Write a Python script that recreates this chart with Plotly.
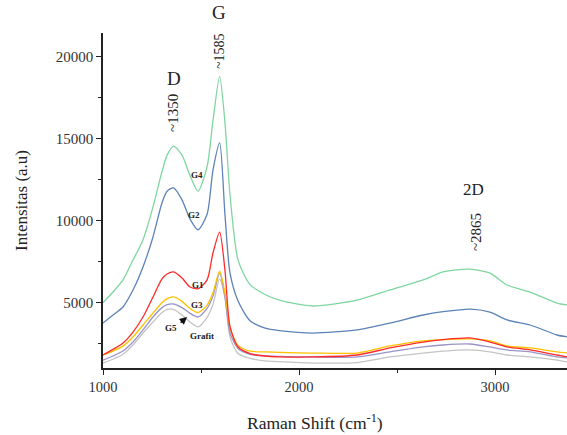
import plotly.graph_objects as go

# Raman shift positions (cm^-1)
shift = [1000, 1051, 1102, 1153, 1204, 1255, 1301, 1327, 1360, 1403, 1444, 1485, 1531, 1561, 1595, 1622,
         1648, 1689, 1750, 1827, 1900, 2071, 2296, 2464, 2633, 2735, 2872, 2974, 3061, 3179, 3316, 3370]

g4 = [5000, 5650, 6390, 7600, 8830, 10840, 13000, 14000, 14550, 14000, 12750, 11800, 13300, 16100, 18800, 16000,
      11570, 7600, 6100, 5500, 5150, 4800, 5160, 5780, 6390, 6880, 7050, 6800, 6080, 5650, 4980, 4860]
g2 = [3760, 4250, 4740, 5770, 7180, 9010, 11100, 11800, 12000, 11270, 10100, 9450, 10400, 13090, 14750, 10400,
      6800, 5100, 3900, 3450, 3300, 3150, 3340, 3760, 4250, 4450, 4610, 4430, 3950, 3640, 3030, 2910]
g1 = [1810, 2150, 2540, 3210, 4130, 5350, 6450, 6750, 6880, 6510, 5960, 5850, 6390, 8030, 9310, 7000,
      3520, 2300, 1900, 1750, 1700, 1690, 1810, 2240, 2600, 2750, 2850, 2600, 2300, 2120, 1810, 1690]
g3 = [1810, 2050, 2350, 2910, 3640, 4370, 5000, 5250, 5350, 5080, 4650, 4400, 4850, 5600, 6930, 5600,
      3520, 2400, 2050, 2000, 1970, 1930, 1930, 2360, 2670, 2750, 2790, 2670, 2360, 2240, 2000, 1930]
g5 = [1500, 1750, 2050, 2600, 3340, 4130, 4700, 4880, 4920, 4700, 4350, 4130, 4650, 5400, 6800, 5400,
      3150, 2200, 1850, 1750, 1720, 1690, 1690, 2000, 2300, 2420, 2480, 2300, 2120, 2000, 1690, 1630]
grafit = [1320, 1550, 1850, 2420, 3150, 3820, 4400, 4600, 4600, 4250, 3820, 3520, 4100, 4900, 6450, 5300,
          2900, 1900, 1600, 1450, 1400, 1320, 1350, 1690, 1930, 2050, 2120, 2000, 1810, 1690, 1500, 1380]

series = [
    ("Grafit", grafit, "#c4c4c4"),
    ("G5", g5, "#9a94c8"),
    ("G3", g3, "#ffc000"),
    ("G1", g1, "#ff2a2a"),
    ("G2", g2, "#5b83b8"),
    ("G4", g4, "#7fd6a0"),
]

serif = "Liberation Serif, Times New Roman, serif"

fig = go.Figure()
for name, vals, col in series:
    fig.add_trace(go.Scatter(x=shift, y=vals, mode="lines", name=name,
                             line=dict(color=col, width=1.3, shape="spline", smoothing=0.7),
                             showlegend=False))

def ann(x, y, text, size, angle=0, bold=False, yref="y", yshift=0, yanchor="auto"):
    fig.add_annotation(x=x, y=y, yref=yref, yshift=yshift, yanchor=yanchor,
                       text=f"<b>{text}</b>" if bold else text,
                       showarrow=False, textangle=angle, font=dict(family=serif, size=size, color="#222"))

ann(1362, 18700, "D", 19)
ann(1357, 16570, "~1350", 15, -90)
ann(1592, 1.0, "G", 19, yref="paper", yshift=8, yanchor="bottom")
ann(1592, 20350, "~1585", 14, -90)
ann(2888, 11875, "2D", 17)
ann(2903, 9310, "~2865", 15, -90)

ann(1480, 12790, "G4", 9, bold=True)
ann(1464, 10350, "G2", 9, bold=True)
ann(1485, 6080, "G1", 9, bold=True)
ann(1480, 4840, "G3", 9, bold=True)
ann(1347, 3450, "G5", 9, bold=True)
ann(1505, 2970, "Grafit", 9, bold=True)

fig.add_annotation(x=1429, y=4128, ax=-8, ay=7, text="", showarrow=True,
                   arrowhead=2, arrowsize=1, arrowwidth=1.5, arrowcolor="#111")

fig.add_annotation(x=0.457, y=-0.162, xref="paper", yref="paper", yanchor="middle",
                   text="Raman Shift (cm<sup>-1</sup>)", showarrow=False,
                   font=dict(family=serif, size=17.5, color="#222"))

fig.update_xaxes(range=[1000, 3367], showgrid=False, zeroline=False,
                 showline=True, linecolor="#222", linewidth=1.5,
                 ticks="outside", ticklen=5, tickwidth=1.3, tickcolor="#222",
                 dtick=1000, tick0=1000, tickformat="d",
                 minor=dict(ticks="outside", ticklen=3, tickwidth=1.2, tickcolor="#222", dtick=500, tick0=1000),
                 tickfont=dict(family=serif, size=14.5, color="#333"))
fig.update_yaxes(range=[1017, 21450], showgrid=False, zeroline=False,
                 showline=True, linecolor="#222", linewidth=1.5,
                 ticks="outside", ticklen=5, tickwidth=1.3, tickcolor="#222",
                 dtick=5000, tick0=0, tickformat="d",
                 minor=dict(ticks="outside", ticklen=3, tickwidth=1.2, tickcolor="#222", dtick=2500, tick0=0),
                 tickfont=dict(family=serif, size=15, color="#333"),
                 title=dict(text="Intensitas (a.u)", font=dict(family=serif, size=17, color="#222"), standoff=24))

fig.update_layout(width=567, height=435, margin=dict(l=103, r=0, t=33, b=67),
                  plot_bgcolor="white", paper_bgcolor="white")

fig.write_html("out.html")
